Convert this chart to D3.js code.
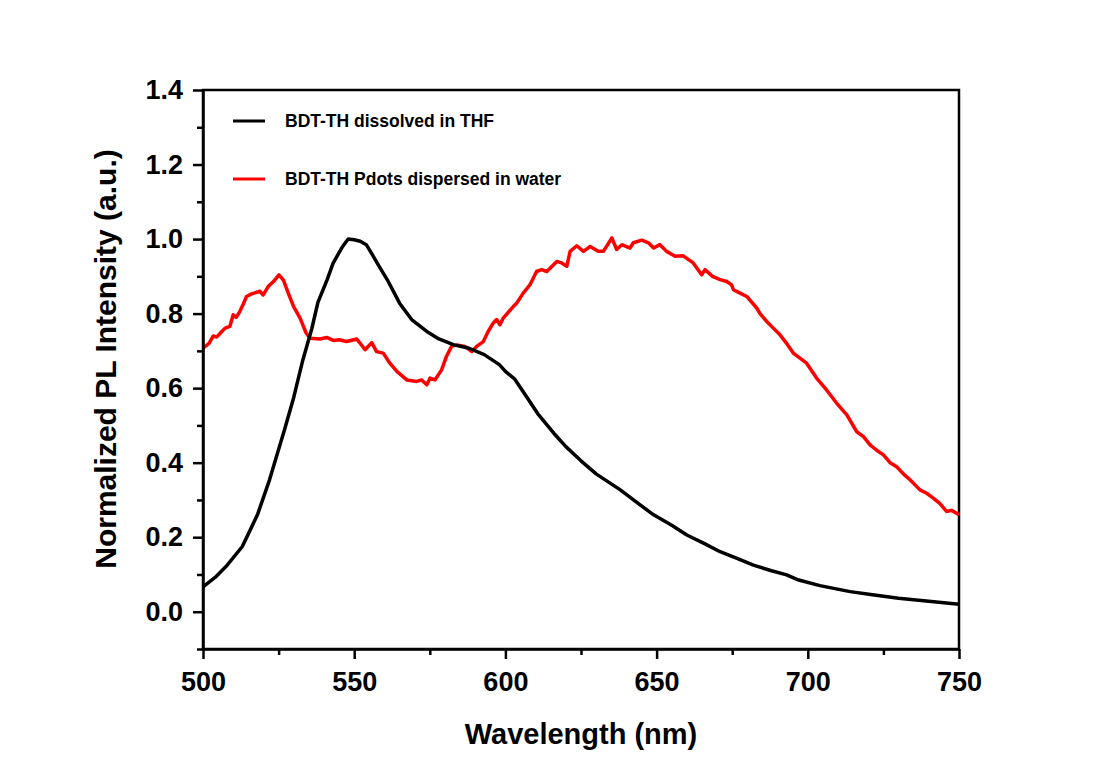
<!DOCTYPE html>
<html>
<head>
<meta charset="utf-8">
<script src="https://cdn.jsdelivr.net/npm/d3@7"></script>
<style>
  body { margin: 0; background: #fff; }
  text { font-family: 'Liberation Sans', Arial, sans-serif; font-weight: bold; fill: #000; }
</style>
</head>
<body>
<div class="canvas"></div>
<script>
// BDT-TH dissolved in THF
const thfWave = [500, 504, 508, 513, 518, 522, 527, 530, 533, 536, 538, 541, 543, 546, 548, 550, 552, 554, 556, 558, 561, 565, 569, 574, 578, 583, 588, 593, 598, 600, 603, 607, 611, 616, 620, 625, 630, 638, 644, 649, 655, 660, 666, 671, 677, 682, 688, 693, 697, 704, 714, 722, 730, 740, 750];
const thfVals = [0.067, 0.092, 0.125, 0.175, 0.26, 0.354, 0.49, 0.575, 0.675, 0.76, 0.83, 0.89, 0.935, 0.978, 1.0, 0.998, 0.994, 0.985, 0.958, 0.93, 0.89, 0.828, 0.784, 0.752, 0.732, 0.716, 0.707, 0.69, 0.663, 0.645, 0.625, 0.577, 0.528, 0.479, 0.443, 0.405, 0.37, 0.327, 0.29, 0.26, 0.232, 0.206, 0.182, 0.161, 0.142, 0.125, 0.11, 0.099, 0.085, 0.07, 0.054, 0.045, 0.036, 0.028, 0.02];

// BDT-TH Pdots dispersed in water
const waterWave = [500, 502, 503.4, 504.5, 506, 507.3, 508.9, 510, 511, 512.2, 513.3, 514.4, 516.1, 518.8, 519.9, 521.6, 523.3, 525.1, 526.6, 528.2, 529.9, 532.1, 534.1, 535.4, 538.7, 540.9, 543.1, 545, 547.5, 550.8, 551.9, 553.6, 555.8, 557.4, 559.6, 561.8, 564.1, 567.4, 570.7, 572.3, 574, 575.1, 576.7, 578.9, 580.5, 582.2, 583.9, 586.6, 588.9, 590.5, 592.7, 594.3, 596, 597.1, 598.2, 599.3, 602.6, 603.7, 605.9, 608.1, 610.3, 612, 613.7, 617, 618.6, 620.3, 621.4, 623.6, 625.8, 628, 630.7, 632.4, 635.2, 636.8, 638.5, 641.2, 642.3, 645.1, 647.3, 649, 651.1, 653.3, 656.1, 658.8, 662.1, 664.9, 666, 668.5, 671, 673.2, 674.8, 675.4, 677.6, 679.8, 683.1, 684.2, 686.4, 688.1, 690.8, 693, 695.2, 697.5, 699.6, 702.9, 706.2, 709.5, 712.9, 716.2, 718.4, 720.6, 723, 725, 727.2, 729.4, 731.6, 733.8, 737.1, 739.3, 741.5, 743.7, 745.9, 747.5, 749.2, 750];
const waterVals = [0.707, 0.72, 0.74, 0.737, 0.75, 0.761, 0.766, 0.797, 0.79, 0.806, 0.825, 0.846, 0.853, 0.86, 0.85, 0.873, 0.886, 0.904, 0.89, 0.855, 0.82, 0.788, 0.748, 0.734, 0.732, 0.736, 0.728, 0.73, 0.725, 0.732, 0.721, 0.703, 0.722, 0.698, 0.694, 0.667, 0.645, 0.622, 0.618, 0.622, 0.609, 0.627, 0.622, 0.649, 0.685, 0.712, 0.716, 0.712, 0.698, 0.712, 0.725, 0.752, 0.775, 0.784, 0.77, 0.788, 0.819, 0.828, 0.855, 0.877, 0.913, 0.918, 0.913, 0.94, 0.936, 0.927, 0.967, 0.982, 0.967, 0.98, 0.967, 0.967, 1.003, 0.972, 0.985, 0.976, 0.99, 0.997, 0.99, 0.976, 0.985, 0.967, 0.954, 0.955, 0.936, 0.904, 0.918, 0.9, 0.891, 0.886, 0.877, 0.864, 0.855, 0.846, 0.815, 0.8, 0.779, 0.765, 0.743, 0.72, 0.694, 0.68, 0.667, 0.627, 0.595, 0.56, 0.528, 0.483, 0.47, 0.448, 0.432, 0.421, 0.4, 0.389, 0.37, 0.354, 0.327, 0.318, 0.305, 0.29, 0.269, 0.272, 0.264, 0.26];

const xTicks = [500, 550, 600, 650, 700, 750];
const yTicks = [0.0, 0.2, 0.4, 0.6, 0.8, 1.0, 1.2, 1.4];
const legendLabels = ['BDT-TH dissolved in THF', 'BDT-TH Pdots dispersed in water'];
const colors = ['#000000', '#ff0000'];

const width = 1100;
const height = 767;
const margin = { top: 90, right: 141, bottom: 118, left: 203 };
const graphWidth = width - margin.left - margin.right;
const graphHeight = height - margin.top - margin.bottom;

const svg = d3.select('.canvas')
  .append('svg')
  .attr('width', width)
  .attr('height', height);

const graph = svg.append('g')
  .attr('transform', `translate(${margin.left}, ${margin.top})`);

const x = d3.scaleLinear().domain([500, 750]).range([0, graphWidth]);
const y = d3.scaleLinear().domain([-0.1, 1.4]).range([graphHeight, 0]);

// frame (top and right sides without ticks)
graph.append('rect')
  .attr('width', graphWidth)
  .attr('height', graphHeight)
  .attr('fill', 'none')
  .attr('stroke', '#000')
  .attr('stroke-width', 2.5);

const line = d3.line().x(d => x(d[0])).y(d => y(d[1]));
const series = [
  d3.zip(thfWave, thfVals),
  d3.zip(waterWave, waterVals)
];

// red drawn first, black on top
[1, 0].forEach(i => {
  graph.append('path')
    .datum(series[i])
    .attr('fill', 'none')
    .attr('stroke', colors[i])
    .attr('stroke-width', 3.5)
    .attr('stroke-linejoin', 'round')
    .attr('d', line);
});

// minor ticks
const xMinor = d3.range(525, 750, 50);
const yMinor = d3.range(-0.1, 1.4, 0.2).map(v => +v.toFixed(1));

const xAxisGroup = graph.append('g').attr('transform', `translate(0, ${graphHeight})`);
xAxisGroup.call(d3.axisBottom(x).tickValues(xTicks).tickSize(10).tickSizeOuter(0).tickPadding(8).tickFormat(d3.format('d')));
xAxisGroup.append('g').call(d3.axisBottom(x).tickValues(xMinor).tickSize(6).tickFormat('')).select('.domain').remove();

const yAxisGroup = graph.append('g');
yAxisGroup.call(d3.axisLeft(y).tickValues(yTicks).tickSize(10).tickSizeOuter(0).tickPadding(10).tickFormat(d3.format('.1f')));
yAxisGroup.append('g').call(d3.axisLeft(y).tickValues(yMinor).tickSize(6).tickFormat('')).select('.domain').remove();

svg.selectAll('.domain').attr('stroke-width', 2.5);
svg.selectAll('.tick line').attr('stroke-width', 2.5);
svg.selectAll('.tick text')
  .style('font-family', "'Liberation Sans', Arial, sans-serif")
  .style('font-weight', 'bold')
  .style('font-size', '27px');
xAxisGroup.selectAll('.tick text').attr('dy', '0.9em');

// axis titles
svg.append('text')
  .attr('x', 581)
  .attr('y', 744)
  .attr('text-anchor', 'middle')
  .style('font-size', '29px')
  .text('Wavelength (nm)');

svg.append('text')
  .attr('transform', 'translate(116, 359) rotate(-90)')
  .attr('text-anchor', 'middle')
  .style('font-size', '30px')
  .text('Normalized PL Intensity (a.u.)');

// legend
const legend = graph.append('g').attr('transform', 'translate(30, 31)');
legendLabels.forEach((label, i) => {
  const row = legend.append('g').attr('transform', `translate(0, ${i * 58})`);
  row.append('line')
    .attr('x1', 0).attr('x2', 32)
    .attr('stroke', colors[i])
    .attr('stroke-width', 3);
  row.append('text')
    .attr('x', 52)
    .attr('dy', '0.35em')
    .style('font-size', '17.5px')
    .text(label);
});
</script>
</body>
</html>
